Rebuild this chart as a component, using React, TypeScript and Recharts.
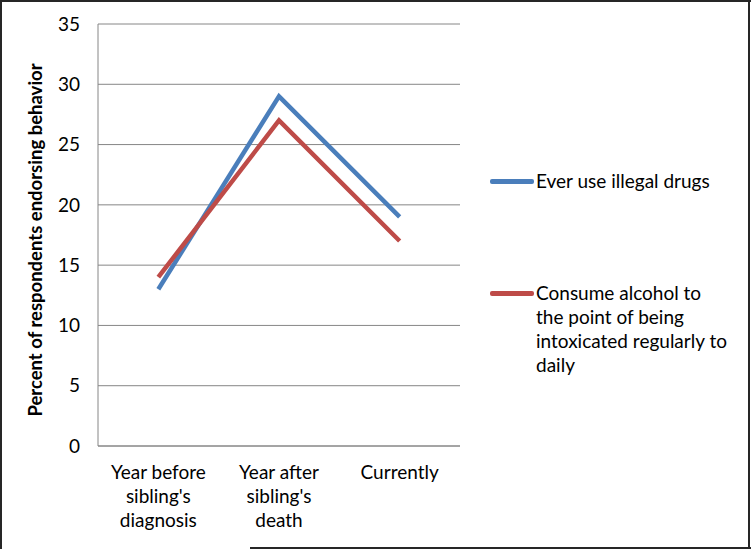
import React from "react";
import { LineChart, Line, XAxis, YAxis, CartesianGrid } from "recharts";

const categories = ["Year before sibling's diagnosis", "Year after sibling's death", "Currently"];
const categoryLines = [["Year before", "sibling's", "diagnosis"], ["Year after", "sibling's", "death"], ["Currently"]];
const drugs = [13, 29, 19];
const alcohol = [14, 27, 17];
const yTicks = [0, 5, 10, 15, 20, 25, 30, 35];
const seriesNames = ["Ever use illegal drugs", "Consume alcohol to the point of being intoxicated regularly to daily"];
const legendLines = [["Ever use illegal drugs"], ["Consume alcohol to", "the point of being", "intoxicated regularly to", "daily"]];
const colors = ["#4A7EBB", "#BE4B48"];

const data = categories.map((c, i) => ({ name: c, drugs: drugs[i], alcohol: alcohol[i] }));

const FONT = "Lato, 'Open Sans', sans-serif";
const FS = 19;

const XTick = (props: any) => {
  const { x, y, index } = props;
  const lines = categoryLines[index] || [];
  return (
    <g>
      {lines.map((l: string, i: number) => (
        <text key={i} x={x} y={y + 17 + i * 24} textAnchor="middle" dominantBaseline="central" fontSize={FS} fill="#000" fontFamily={FONT}>
          {l}
        </text>
      ))}
    </g>
  );
};

const YLabel = () => {
  const cx = 35;
  const cy = 240;
  return (
    <text x={cx} y={cy} transform={`rotate(-90, ${cx}, ${cy})`} textAnchor="middle" dominantBaseline="central" fontSize={18.5} fontWeight="bold" fill="#000" fontFamily={FONT}>
      Percent of respondents endorsing behavior
    </text>
  );
};

export default function App() {
  return (
    <div style={{ position: "absolute", left: 0, top: 0, width: 751, height: 549, background: "#fff", fontFamily: FONT }}>
      <LineChart width={751} height={549} data={data} margin={{ top: 24, right: 291, bottom: 0, left: 18 }}>
        <CartesianGrid vertical={false} stroke="#868686" strokeWidth={1} />
        <XAxis dataKey="name" scale="band" stroke="#868686" tickLine={false} tick={<XTick />} interval={0} height={103} />
        <YAxis
          domain={[0, 35]}
          ticks={yTicks}
          width={80}
          stroke="#868686"
          tickLine={false}
          tickMargin={12}
          tick={{ fontSize: FS, fill: "#000", fontFamily: FONT }}
          label={<YLabel />}
        />
        <Line dataKey="drugs" name={seriesNames[0]} stroke={colors[0]} strokeWidth={4.5} dot={false} isAnimationActive={false} />
        <Line dataKey="alcohol" name={seriesNames[1]} stroke={colors[1]} strokeWidth={4.5} dot={false} isAnimationActive={false} />
      </LineChart>
      {legendLines.map((lines, k) => (
        <div key={k} style={{ position: "absolute", left: 490, top: k === 0 ? 169 : 281 }}>
          <div style={{ position: "absolute", left: 0, top: 10, width: 44, height: 4.5, borderRadius: 2, background: colors[k] }} />
          <div style={{ position: "absolute", left: 46, top: 0, fontSize: FS, lineHeight: "24px", whiteSpace: "nowrap", color: "#000" }}>
            {lines.map((l, i) => (
              <div key={i}>{l}</div>
            ))}
          </div>
        </div>
      ))}
      <svg width={751} height={549} style={{ position: "absolute", left: 0, top: 0, pointerEvents: "none" }}>
        <line x1={0} y1={1} x2={751} y2={1} stroke="#262626" strokeWidth={2} />
        <line x1={1} y1={0} x2={1} y2={549} stroke="#262626" strokeWidth={2} />
        <line x1={749} y1={0} x2={749} y2={549} stroke="#262626" strokeWidth={2} />
        <line x1={250} y1={548} x2={751} y2={548} stroke="#262626" strokeWidth={2} />
      </svg>
    </div>
  );
}
